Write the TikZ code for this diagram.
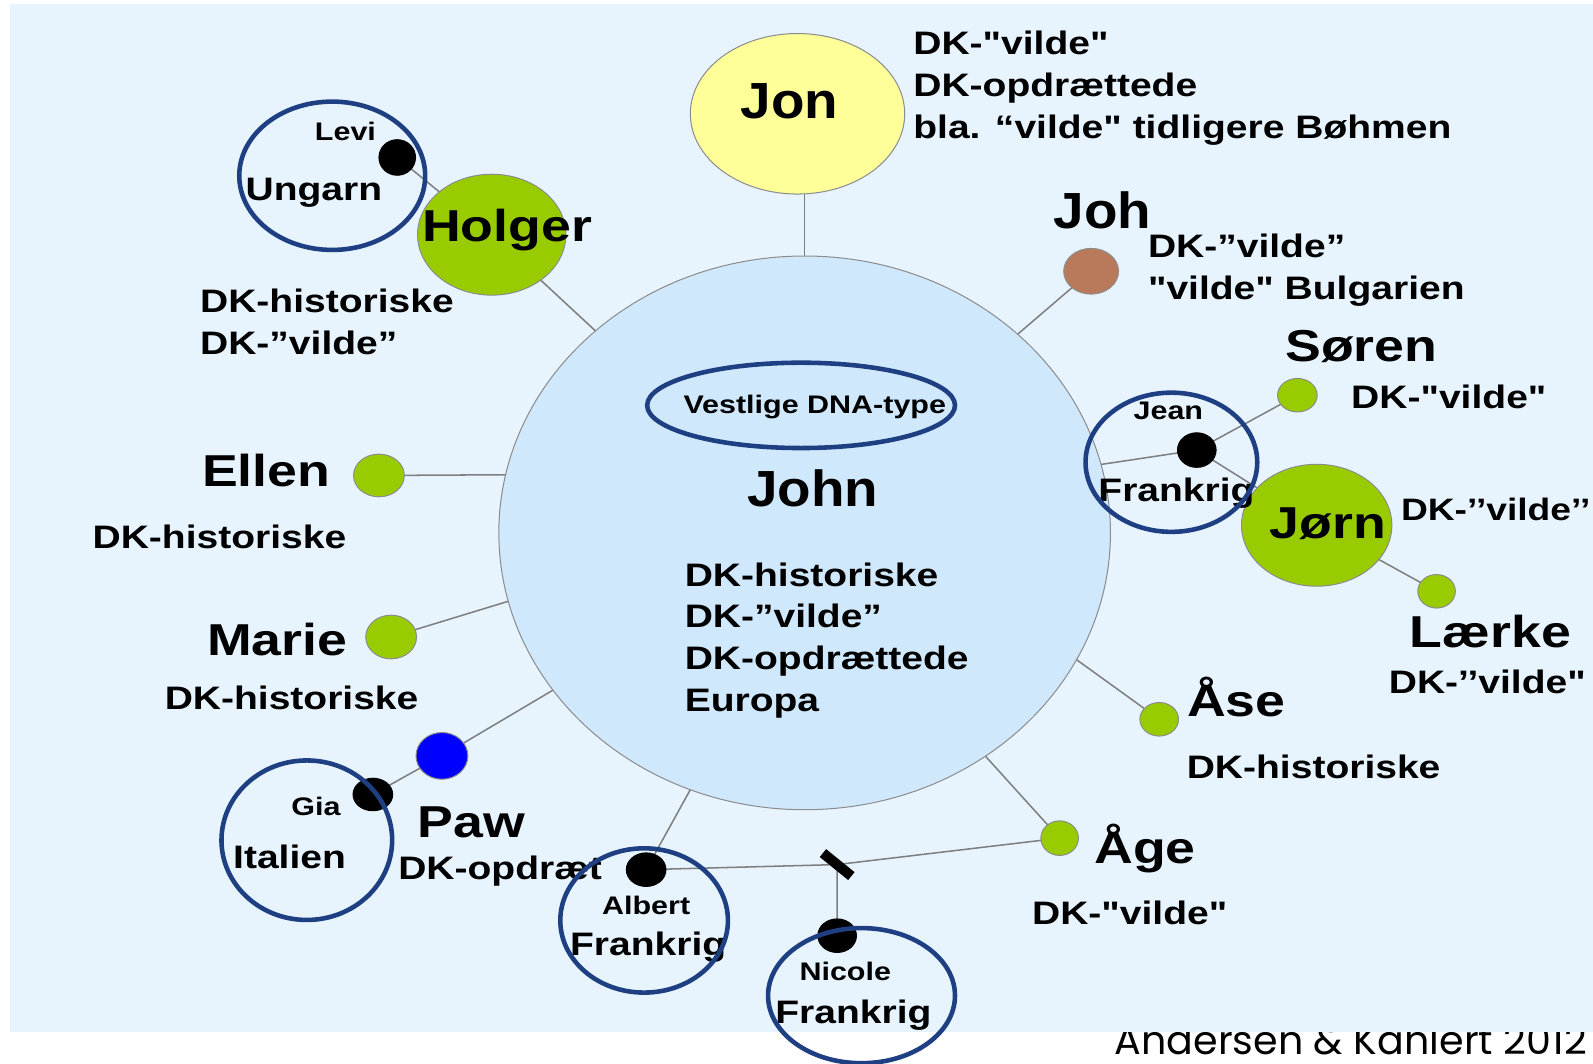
\documentclass[tikz,border=0pt]{standalone}
\usepackage{fontspec}
\setmainfont{Liberation Sans}[FakeStretch=1.2,Ligatures=TeXOff]
\newfontfamily\bigfam{Liberation Sans}[FakeStretch=1.08,Ligatures=TeXOff]
\newfontfamily\credfam{Poppins}
\usetikzlibrary{shapes.geometric}
\definecolor{bgblue}{HTML}{E7F4FE}
\definecolor{johnblue}{HTML}{D0E8FC}
\definecolor{ringblue}{HTML}{1E3F82}
\definecolor{leafgreen}{HTML}{99CC00}
\definecolor{jonyellow}{HTML}{FFFF99}
\definecolor{johbrown}{HTML}{B97A5B}
\definecolor{pawblue}{HTML}{0000FF}
\definecolor{linegray}{HTML}{7F7F7F}
\pgfdeclarelayer{bottom}
\pgfdeclarelayer{bgl}
\pgfdeclarelayer{lines}
\pgfsetlayers{bottom,bgl,lines,main}
\begin{document}
\begin{tikzpicture}[x=1pt,y=-1pt,
  every node/.style={inner sep=0pt,outer sep=0pt},
  blob/.style={ellipse,draw=black!45,line width=1pt,inner sep=0pt},
  sz/.style 2 args={minimum width=#1pt,minimum height=#2pt},
  bluering/.style={ellipse,draw=ringblue,line width=4.5pt,inner sep=0pt},
  conn/.style={draw=linegray,line width=1.5pt},
  lbl/.style={font=\fontsize{32}{38}\selectfont\bfseries},
  nm/.style={font=\fontsize{44}{50}\selectfont\bfseries},
  smalltxt/.style={font=\fontsize{25}{30}\selectfont\bfseries},
  bignm/.style={font=\bigfam\fontsize{50}{56}\selectfont\bfseries}]
\useasboundingbox (0,0) rectangle (1568,1047);
\begin{pgfonlayer}{bottom}
  \fill[white] (0,0) rectangle (1568,1047);
  \node[anchor=base east,font=\credfam\fontsize{39}{44}\selectfont] (credit) at (1562,1038) {Andersen \& Kahlert 2012};
\end{pgfonlayer}
\begin{pgfonlayer}{bgl}
  \fill[bgblue] (10,4) rectangle (1568,1016);
\end{pgfonlayer}

% main circle and big nodes
\node[blob,fill=johnblue,draw=black!45,sz={602}{545}] (john) at (792,524.5) {};
\node[blob,fill=jonyellow,sz={211}{158}] (jon) at (785,112) {};
\node[blob,fill=leafgreen,sz={146}{119}] (holger) at (484,231) {};
\node[blob,fill=leafgreen,sz={148}{120}] (jorn) at (1296,517) {};

% small dots
\node[blob,fill=black,draw=black,sz={36}{35}] (levi) at (391,155) {};
\node[blob,fill=leafgreen,sz={50}{42}] (ellen) at (373,468) {};
\node[blob,fill=leafgreen,sz={50}{43}] (marie) at (385,627) {};
\node[blob,fill=pawblue,sz={51}{46}] (paw) at (435,744) {};
\node[blob,fill=black,draw=black,sz={39}{32}] (gia) at (367,782) {};
\node[blob,fill=black,draw=black,sz={39}{33}] (albert) at (636,856) {};
\node[blob,fill=black,draw=black,sz={38}{33}] (nicole) at (824,921) {};
\node[fill=black,rotate=-39,minimum width=36pt,minimum height=10pt] (mark) at (824,851) {};
\node[blob,fill=leafgreen,sz={37}{34}] (age) at (1043,825) {};
\node[blob,fill=leafgreen,sz={38}{33}] (ase) at (1141,708) {};
\node[blob,fill=leafgreen,sz={37}{33}] (laerke) at (1414,582) {};
\node[blob,fill=black,draw=black,sz={38}{34}] (jean) at (1178,443) {};
\node[blob,fill=leafgreen,sz={39}{33}] (soren) at (1277,389) {};
\node[blob,fill=johbrown,sz={54}{45}] (joh) at (1074,267) {};

% connectors
\begin{pgfonlayer}{lines}
  \draw[conn] (jon.south -| john.north) -- (john.north);
  \draw[conn] (holger) -- (john.136);
  \draw[conn] (levi) -- (holger);
  \draw[conn] (ellen) -- (john.169.2);
  \draw[conn] (marie) -- (john.193.5);
  \draw[conn] (paw) -- (john.212.8);
  \draw[conn] (gia) -- (paw);
  \draw[conn] (albert) -- (john.246);
  \draw[conn] (albert) -- (mark) -- (age);
  \draw[conn] (mark) -- (nicole);
  \draw[conn] (age) -- (john.309.6);
  \draw[conn] (ase) -- (john.335.1);
  \draw[conn] (jean) -- (john.13.1);
  \draw[conn] (jean) -- (soren);
  \draw[conn] (jean) -- (jorn);
  \draw[conn] (jorn) -- (laerke);
  \draw[conn] (joh) -- (john.43);
\end{pgfonlayer}

% names
\node[bignm,anchor=base] (jontxt) at (777,117) {Jon};
\node[bignm,anchor=base] (johntxt) at (800,499) {John};
\node[bignm,anchor=base] (johtxt) at (1085,225) {Joh};
\node[nm,anchor=base] (holgertxt) at (499,238) {Holger};
\node[nm,anchor=base] (ellentxt) at (262,479) {Ellen};
\node[nm,anchor=base] (marietxt) at (273,645) {Marie};
\node[nm,anchor=base] (pawtxt) at (464,824) {Paw};
\node[nm,anchor=base] (agetxt) at (1127,850) {Åge};
\node[nm,anchor=base] (asetxt) at (1217,705) {Åse};
\node[nm,anchor=base] (laerketxt) at (1467,637) {Lærke};
\node[nm,anchor=base] (jorntxt) at (1307,530) {Jørn};
\node[nm,anchor=base] (sorentxt) at (1340,356) {Søren};

% small names
\node[smalltxt,anchor=base] (dnatxt) at (802,407) {Vestlige DNA-type};
\node[smalltxt,anchor=base] (levitxt) at (340,138) {Levi};
\node[smalltxt,anchor=base] (giatxt) at (311,803) {Gia};
\node[smalltxt,anchor=base] (alberttxt) at (636,900) {Albert};
\node[smalltxt,anchor=base] (nicoletxt) at (832,965) {Nicole};
\node[smalltxt,anchor=base] (jeantxt) at (1150,413) {Jean};

% countries
\node[lbl,anchor=base] (ungarn) at (309,197) {Ungarn};
\node[lbl,anchor=base] (italien) at (285,855) {Italien};
\node[lbl,anchor=base] (frA) at (638,940) {Frankrig};
\node[lbl,anchor=base] (frN) at (840,1007) {Frankrig};
\node[lbl,anchor=base] (frJ) at (1158,494) {Frankrig};

% description labels
\node[lbl,anchor=base west] (jonl1) at (899,54) {DK-"vilde"};
\node[lbl,anchor=base west] (jonl2) at (899,95) {DK-opdrættede};
\node[lbl,anchor=base west] (jonl3) at (899,136) {bla. “vilde" tidligere Bøhmen};
\node[lbl,anchor=base west] (holl1) at (197,308) {DK-historiske};
\node[lbl,anchor=base west] (holl2) at (197,349) {DK-”vilde”};
\node[lbl,anchor=base] (ellenl) at (216,540) {DK-historiske};
\node[lbl,anchor=base] (mariel) at (287,698) {DK-historiske};
\node[lbl,anchor=base west] (pawl) at (392,866) {DK-opdræt};
\node[lbl,anchor=base] (agel) at (1112,910) {DK-"vilde"};
\node[lbl,anchor=base] (asel) at (1293,766) {DK-historiske};
\node[lbl,anchor=base] (laerkel) at (1464,683) {DK-’’vilde"};
\node[anchor=base west,font=\fontsize{30.5}{36}\selectfont\bfseries] (jornl) at (1379,512) {DK-’’vilde’’};
\node[lbl,anchor=base west] (sorenl) at (1330,402) {DK-"vilde"};
\node[lbl,anchor=base west] (johl1) at (1130,253) {DK-”vilde”};
\node[lbl,anchor=base west] (johl2) at (1130,295) {"vilde" Bulgarien};
\node[lbl,anchor=base west] (johnl1) at (674,577) {DK-historiske};
\node[lbl,anchor=base west] (johnl2) at (674,618) {DK-”vilde”};
\node[lbl,anchor=base west] (johnl3) at (674,659) {DK-opdrættede};
\node[lbl,anchor=base west] (johnl4) at (674,700) {Europa};

% blue rings
\node[bluering,sz={303}{84}] (dnaring) at (788.5,399) {};
\node[bluering,sz={183}{146}] (leviring) at (327,173) {};
\node[bluering,sz={168}{157}] (giaring) at (302,827) {};
\node[bluering,sz={165}{142}] (albertring) at (634,906) {};
\node[bluering,sz={184}{133}] (nicolering) at (848,980) {};
\node[bluering,sz={169}{137}] (jeanring) at (1153,455) {};
\end{tikzpicture}
\end{document}
